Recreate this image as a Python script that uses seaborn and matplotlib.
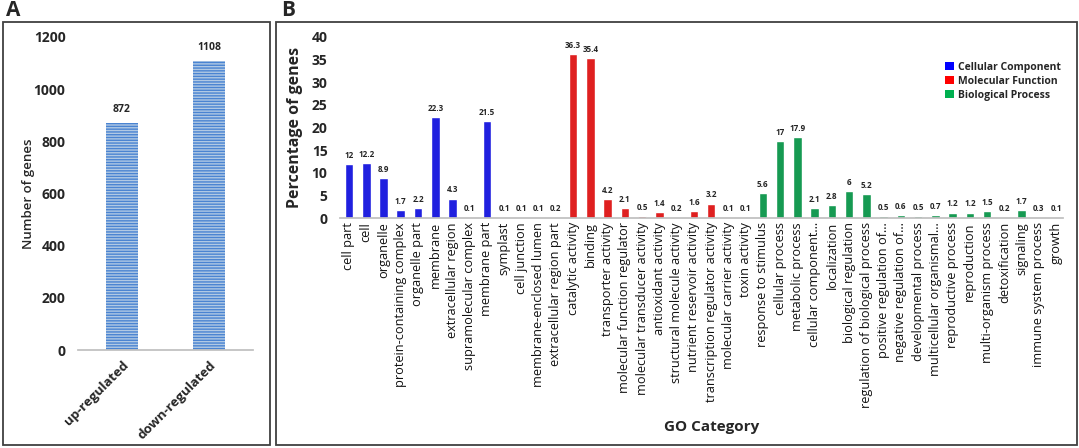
import matplotlib
matplotlib.use("Agg")
import matplotlib.pyplot as plt
import seaborn as sns
import pandas as pd
from matplotlib.patches import Rectangle, Patch

# ---- data ----
reg_labels = ["up-regulated", "down-regulated"]
reg_counts = [872, 1108]

cc_terms = ["cell part", "cell", "organelle", "protein-containing complex", "organelle part",
            "membrane", "extracellular region", "supramolecular complex", "membrane part",
            "symplast", "cell junction", "membrane-enclosed lumen", "extracellular region part"]
cc_vals = [12, 12.2, 8.9, 1.7, 2.2, 22.3, 4.3, 0.1, 21.5, 0.1, 0.1, 0.1, 0.2]

mf_terms = ["catalytic activity", "binding", "transporter activity", "molecular function regulator",
            "molecular transducer activity", "antioxidant activity", "structural molecule activity",
            "nutrient reservoir activity", "transcription regulator activity",
            "molecular carrier activity", "toxin activity"]
mf_vals = [36.3, 35.4, 4.2, 2.1, 0.5, 1.4, 0.2, 1.6, 3.2, 0.1, 0.1]

bp_terms = ["response to stimulus", "cellular process", "metabolic process", "cellular component...",
            "localization", "biological regulation", "regulation of biological process",
            "positive regulation of...", "negative regulation of...", "developmental process",
            "multicellular organismal...", "reproductive process", "reproduction",
            "multi-organism process", "detoxification", "signaling", "immune system process", "growth"]
bp_vals = [5.6, 17, 17.9, 2.1, 2.8, 6, 5.2, 0.5, 0.6, 0.5, 0.7, 1.2, 1.2, 1.5, 0.2, 1.7, 0.3, 0.1]

group_names = ["Cellular Component", "Molecular Function", "Biological Process"]
group_colors = ["#0000ff", "#ff0000", "#00b050"]

sns.set_theme(style="white")
plt.rcParams['font.family'] = ['Open Sans', 'DejaVu Sans']

W, H = 1079, 448
fig = plt.figure(figsize=(W / 100, H / 100), dpi=100)

def fx(px):
    return px / W

def fy(py):
    return 1 - py / H

# panel frames
for x0, x1 in [(3, 270), (276, 1077)]:
    fig.patches.append(Rectangle((fx(x0), fy(445)), fx(x1) - fx(x0), fy(22) - fy(445),
                                 transform=fig.transFigure, fill=False,
                                 edgecolor="#404040", linewidth=1.3))
fig.text(fx(6), fy(11), "A", fontsize=15, fontweight="bold", va="center", ha="left")
fig.text(fx(281), fy(11), "B", fontsize=15, fontweight="bold", va="center", ha="left")

# ---- Panel A ----
axA = fig.add_axes([fx(78), fy(350), fx(253) - fx(78), fy(37) - fy(350)])
dfA = pd.DataFrame({"reg": reg_labels, "count": reg_counts})
sns.barplot(data=dfA, x="reg", y="count", ax=axA, color="#a9c8ec", width=0.37,
            edgecolor="#4f8ad6", linewidth=0)
for p in axA.patches:
    p.set_hatch("------")
    p.set_edgecolor("#4a84d2")
axA.set_ylim(0, 1200)
axA.set_xlim(-0.5, 1.5)
axA.set_yticks(range(0, 1201, 200))
axA.tick_params(axis="y", labelsize=10, length=0, pad=9)
for t in axA.get_yticklabels():
    t.set_fontweight("bold")
axA.set_xticks([0, 1])
axA.set_xticklabels(reg_labels, rotation=45, ha="right", rotation_mode="anchor",
                    fontsize=9.5, fontweight="bold")
axA.tick_params(axis="x", length=0, pad=6)
axA.set_xlabel("")
axA.set_ylabel("Number of genes", fontsize=9.5, fontweight="semibold", labelpad=-1)
for s in ["left", "right", "top"]:
    axA.spines[s].set_visible(False)
axA.spines["bottom"].set_color("#bfbfbf")
for i, v in enumerate(reg_counts):
    axA.text(i, v + 30, str(v), ha="center", va="bottom", fontsize=7.5, fontweight="bold")

# ---- Panel B ----
terms = cc_terms + mf_terms + bp_terms
vals = cc_vals + mf_vals + bp_vals
groups = ([group_names[0]] * len(cc_terms) + [group_names[1]] * len(mf_terms)
          + [group_names[2]] * len(bp_terms))
dfB = pd.DataFrame({"term": terms, "val": vals, "group": groups})

axB = fig.add_axes([fx(340), fy(218), fx(1063) - fx(340), fy(37) - fy(218)])
sns.barplot(data=dfB, x="term", y="val", hue="group", hue_order=group_names,
            palette=group_colors, dodge=False, width=0.5, ax=axB, legend=False)
axB.set_ylim(0, 40)
axB.set_xlim(-0.52, len(terms) - 0.6)
axB.set_yticks(range(0, 41, 5))
axB.tick_params(axis="y", labelsize=10, length=0, pad=9)
for t in axB.get_yticklabels():
    t.set_fontweight("bold")
axB.set_xticks(range(len(terms)))
axB.set_xticklabels(terms, rotation=90, fontsize=9.2, color="#111111")
axB.tick_params(axis="x", length=0, pad=3)
axB.set_xlabel("")
axB.set_ylabel("Percentage of genes", fontsize=11.5, fontweight="bold", labelpad=6)
for s in ["left", "right", "top"]:
    axB.spines[s].set_visible(False)
axB.spines["bottom"].set_color("#bfbfbf")
for i, v in enumerate(vals):
    axB.text(i, v + 0.9, f"{v:g}", ha="center", va="bottom", fontsize=5.8, fontweight="bold")

fig.text(fx(712), fy(427), "GO Category", fontsize=11, fontweight="bold", ha="center", va="center")

handles = [Patch(facecolor=c, edgecolor="none") for c in group_colors]
axB.legend(handles, group_names, loc="upper right", bbox_to_anchor=(1.01, 0.915),
           frameon=False, handlelength=0.8, handleheight=0.8,
           handletextpad=0.4, labelspacing=0.3, prop={"weight": "bold", "size": 7.5})

fig.savefig("out.png", dpi=100)
